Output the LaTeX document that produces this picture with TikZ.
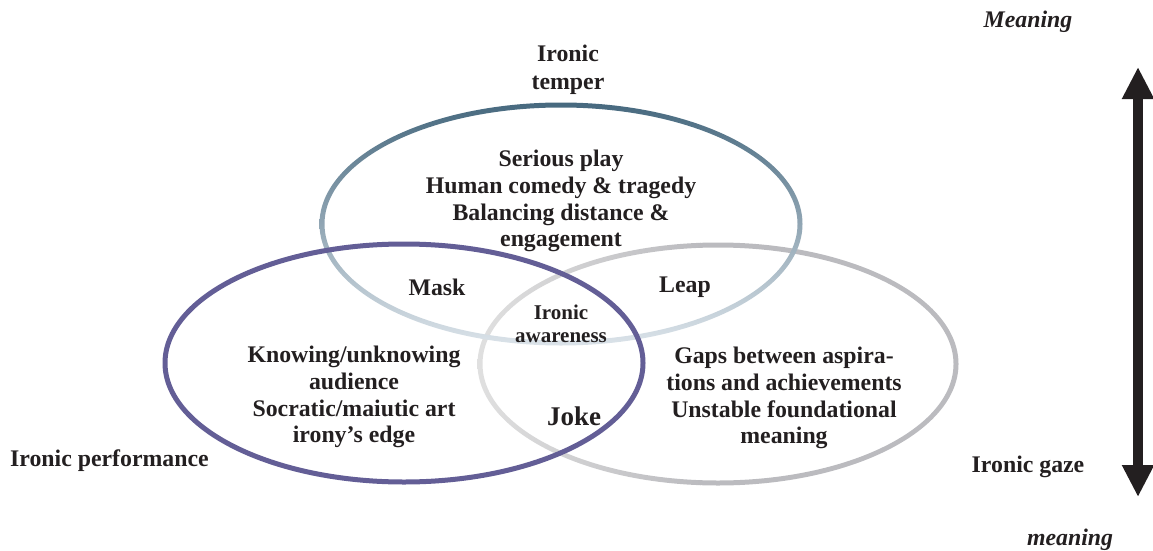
\documentclass[tikz,border=0pt]{standalone}
\usepackage{fontspec}
\setmainfont{Liberation Serif}
\usetikzlibrary{arrows.meta}
\definecolor{tealdark}{HTML}{46687E}
\definecolor{teallight}{HTML}{DCE4EA}
\definecolor{purp}{HTML}{635E96}
\definecolor{grayR}{HTML}{BBBBBF}
\definecolor{grayL}{HTML}{E0E0E0}
\definecolor{ink}{HTML}{231F20}
\begin{document}
\begin{tikzpicture}[x=1pt,y=-1pt,
  lbl/.style={font=\bfseries\fontsize{23.8}{26.8}\selectfont, text=ink, align=center, inner sep=0pt},
  smalllbl/.style={font=\bfseries\fontsize{21}{23.5}\selectfont, text=ink, align=center, inner sep=0pt},
  biglbl/.style={font=\bfseries\fontsize{27}{30}\selectfont, text=ink, align=center, inner sep=0pt},
  itlbl/.style={font=\bfseries\itshape\fontsize{23.8}{26.8}\selectfont, text=ink, inner sep=0pt},
  bigarrow/.style={draw=ink, line width=9.5pt, {Triangle[width=30pt,length=32pt]}-{Triangle[width=30pt,length=32pt]}}]
\useasboundingbox (0,0) rectangle (1153,551);

% right ellipse (gray), bottom layer
\begin{scope}[even odd rule]
  \clip (718,364) ellipse [x radius=240.5pt, y radius=121.5pt]
        (718,364) ellipse [x radius=235.5pt, y radius=116.5pt];
  \fill[grayR] (700,240) rectangle (962,490);
  \shade[left color=grayL, right color=grayR] (476,240) rectangle (701,490);
\end{scope}

% top ellipse (teal gradient)
\begin{scope}[even odd rule]
  \clip (561,224) ellipse [x radius=241.5pt, y radius=121.5pt]
        (561,224) ellipse [x radius=236.5pt, y radius=116.5pt];
  \shade[top color=tealdark, middle color=tealdark!80!teallight, bottom color=teallight] (318,101) rectangle (804,347);
\end{scope}

% left ellipse (purple)
\draw[purp, line width=5pt] (404,363) ellipse [x radius=239pt, y radius=119pt];

% double arrow
\coordinate (atop) at (1138,67);
\coordinate (abot) at (1138,497);
\draw[bigarrow] (atop) -- (abot);

% labels
\node[itlbl] (Mtop) at (1028,22) {Meaning};
\node[itlbl] (mbot) at (1070,540) {meaning};
\node[lbl] (temper) at (568,70) {Ironic\\[1.5pt]temper};
\node[lbl] (topset) at (561,201) {Serious play\\Human comedy \& tragedy\\Balancing distance \&\\engagement};
\node[lbl] (mask) at (437,287) {Mask};
\node[lbl] (leap) at (685,287) {Leap};
\node[smalllbl] (aware) at (561,324) {Ironic\\awareness};
\node[lbl] (leftset) at (354,397) {Knowing/unknowing\\audience\\Socratic/maiutic art\\irony’s edge};
\node[biglbl] (joke) at (574,416) {Joke};
\node[lbl] (rightset) at (784,398) {Gaps between aspira-\\tions and achievements\\Unstable foundational\\meaning};
\node[lbl, anchor=west] (perf) at (10,461) {Ironic performance};
\node[lbl] (gaze) at (1028,467) {Ironic gaze};
\end{tikzpicture}
\end{document}
